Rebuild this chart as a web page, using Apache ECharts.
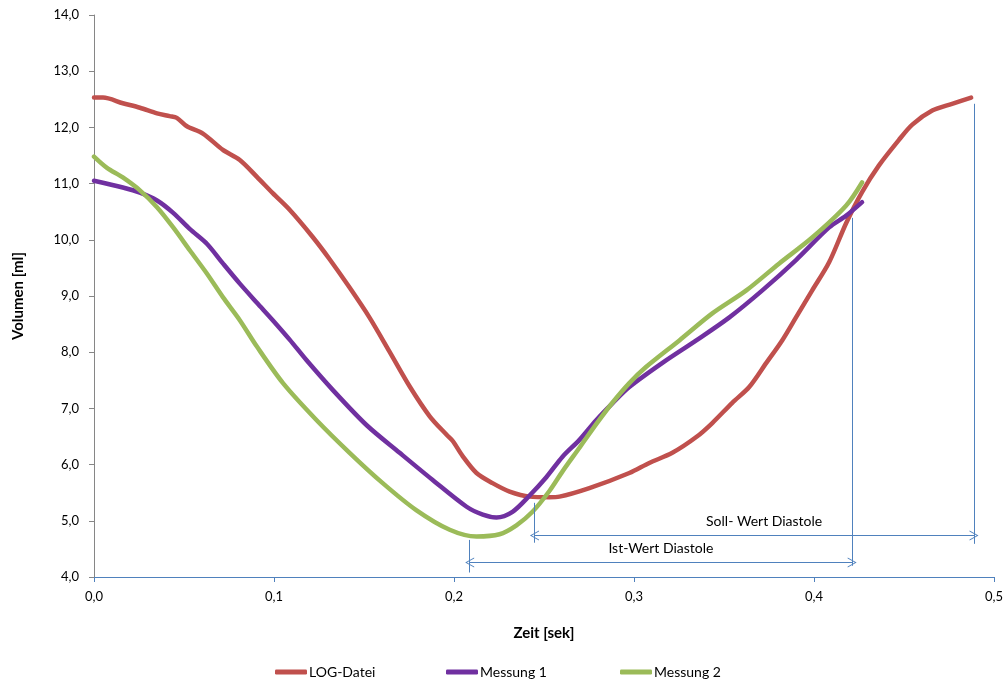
<!DOCTYPE html>
<html>
<head>
<meta charset="utf-8">
<script src="https://cdn.jsdelivr.net/npm/echarts@6/dist/echarts.min.js"></script>
<style>
html,body{margin:0;padding:0;background:#fff;}
#chart{width:1007px;height:684px;}
</style>
</head>
<body>
<div id="chart"></div>
<script>
// Zeit [sek] / Volumen [ml]
var logX = [0, 0.005, 0.016, 0.0255, 0.035, 0.042, 0.046, 0.0516, 0.0605, 0.0716, 0.081, 0.0905, 0.0993, 0.1088, 0.1215, 0.131, 0.142, 0.153, 0.164, 0.1754, 0.1865, 0.1959, 0.1993, 0.2048, 0.2125, 0.2214, 0.2309, 0.242, 0.253, 0.2586, 0.2752, 0.2974, 0.3085, 0.3213, 0.3346, 0.3435, 0.3546, 0.364, 0.3735, 0.3823, 0.39, 0.399, 0.4084, 0.4179, 0.4267, 0.436, 0.447, 0.4546, 0.4657, 0.4767, 0.4873];
var logY = [12.53, 12.53, 12.43, 12.35, 12.25, 12.20, 12.17, 12.02, 11.89, 11.60, 11.42, 11.12, 10.83, 10.53, 10.05, 9.65, 9.15, 8.62, 8.02, 7.39, 6.86, 6.53, 6.42, 6.15, 5.85, 5.67, 5.52, 5.43, 5.42, 5.43, 5.58, 5.85, 6.03, 6.21, 6.49, 6.74, 7.10, 7.38, 7.81, 8.21, 8.62, 9.10, 9.60, 10.30, 10.85, 11.32, 11.77, 12.05, 12.30, 12.42, 12.53];

var mess1X = [0, 0.016, 0.0255, 0.035, 0.044, 0.0533, 0.0627, 0.0716, 0.081, 0.0905, 0.0993, 0.1088, 0.118, 0.1326, 0.1515, 0.1698, 0.188, 0.207, 0.216, 0.2236, 0.2325, 0.242, 0.2514, 0.2603, 0.2697, 0.279, 0.288, 0.2974, 0.3158, 0.3346, 0.353, 0.3713, 0.39, 0.4084, 0.4179, 0.4267];
var mess1Y = [11.05, 10.93, 10.84, 10.70, 10.48, 10.19, 9.93, 9.58, 9.22, 8.88, 8.57, 8.22, 7.86, 7.33, 6.70, 6.21, 5.73, 5.25, 5.11, 5.06, 5.16, 5.45, 5.78, 6.14, 6.44, 6.79, 7.09, 7.38, 7.81, 8.21, 8.62, 9.10, 9.64, 10.22, 10.43, 10.67];

var mess2X = [0, 0.0072, 0.016, 0.0255, 0.035, 0.044, 0.0533, 0.0627, 0.0716, 0.081, 0.0905, 0.105, 0.1237, 0.142, 0.1604, 0.179, 0.1976, 0.2125, 0.2253, 0.2347, 0.2436, 0.253, 0.2603, 0.2697, 0.279, 0.288, 0.2974, 0.3068, 0.3252, 0.3435, 0.3624, 0.3807, 0.399, 0.4179, 0.4267];
var mess2Y = [11.48, 11.28, 11.11, 10.88, 10.58, 10.22, 9.81, 9.40, 8.98, 8.57, 8.10, 7.45, 6.79, 6.21, 5.67, 5.19, 4.84, 4.72, 4.76, 4.92, 5.16, 5.53, 5.88, 6.30, 6.72, 7.10, 7.45, 7.74, 8.21, 8.69, 9.10, 9.58, 10.04, 10.61, 11.02];

// Annotationen: Soll-/Ist-Wert Diastole
var sollX = [0.2447, 0.4889], sollY = 4.74;
var istX = [0.2087, 0.4212], istY = 4.26;
// Hilfslinien [x, yOben, yUnten]
var guides = [[0.2447, 5.32, 4.61], [0.2087, 4.66, 4.08], [0.4212, 10.39, 4.20], [0.4889, 12.42, 4.59]];

var seriesNames = ['LOG-Datei', 'Messung 1', 'Messung 2'];
var colorMap = {'LOG-Datei': '#C0504D', 'Messung 1': '#7030A0', 'Messung 2': '#9BBB59'};

function zip(xs, ys) {
	return xs.map(function (x, i) { return [x, ys[i]]; });
}

var chart = echarts.init(document.getElementById('chart'));
var fontFam = 'Lato, "Open Sans", sans-serif';
var annoColor = '#4F81BD';
var chevron = 'path://M5,0 L10,10 L9,10 L5,2 L1,10 L0,10 Z';

var lineSeries = [zip(logX, logY), zip(mess1X, mess1Y), zip(mess2X, mess2Y)].map(function (d, i) {
	return {
		name: seriesNames[i],
		type: 'line',
		data: d,
		smooth: 0.3,
		showSymbol: false,
		lineStyle: {width: 4.5, color: colorMap[seriesNames[i]], cap: 'round'},
		itemStyle: {color: colorMap[seriesNames[i]]},
		z: 3
	};
});

var guideLines = guides.map(function (g) {
	return [{coord: [g[0], g[1]], symbol: 'none'}, {coord: [g[0], g[2]], symbol: 'none'}];
});

var annoSeries = {
	type: 'line',
	data: [],
	silent: true,
	markLine: {
		silent: true,
		animation: false,
		lineStyle: {color: annoColor, width: 1, type: 'solid'},
		symbol: [chevron, chevron],
		symbolSize: [10, 9],
		label: {show: false},
		data: [
			[{coord: [sollX[0], sollY]}, {coord: [sollX[1], sollY]}],
			[{coord: [istX[0], istY]}, {coord: [istX[1], istY]}]
		].concat(guideLines)
	}
};

var labels = {
	type: 'scatter',
	data: [],
	silent: true,
	markPoint: {
		silent: true,
		symbol: 'rect',
		symbolSize: 0,
		label: {show: true, color: '#000', fontFamily: fontFam, fontSize: 14},
		data: [
			{coord: [(sollX[0] + sollX[1]) / 2 + 0.0055, sollY + 0.25], value: 'Soll- Wert Diastole', label: {formatter: 'Soll- Wert Diastole'}},
			{coord: [(istX[0] + istX[1]) / 2, istY + 0.25], value: 'Ist-Wert Diastole', label: {formatter: 'Ist-Wert Diastole'}}
		]
	}
};

var legendPos = [270, 441, 615];
var option = {
	animation: false,
	color: seriesNames.map(function (n) { return colorMap[n]; }),
	grid: {left: 94, right: 13, top: 15, bottom: 107},
	legend: seriesNames.map(function (n, i) {
		return {
			data: [n],
			left: legendPos[i],
			top: 660,
			icon: 'roundRect',
			itemWidth: 32,
			itemHeight: 5,
			textStyle: {fontFamily: fontFam, fontSize: 14, color: '#000', padding: [0, 0, 0, -3]},
			selectedMode: false
		};
	}),
	xAxis: {
		type: 'value',
		min: 0, max: 0.5, interval: 0.1,
		name: 'Zeit [sek]',
		nameLocation: 'middle',
		nameGap: 49,
		nameTextStyle: {fontFamily: fontFam, fontSize: 15, fontWeight: 'bold', color: '#000'},
		axisLine: {show: true, lineStyle: {color: '#4F81BD', width: 1}},
		axisTick: {show: true, length: 5, inside: false, lineStyle: {color: '#4F81BD'}},
		axisLabel: {margin: 13, fontFamily: fontFam, fontSize: 13, color: '#000',
			formatter: function (v) { return v.toFixed(1).replace('.', ','); }},
		splitLine: {show: false}
	},
	yAxis: {
		type: 'value',
		min: 4, max: 14, interval: 1,
		name: 'Volumen [ml]',
		nameLocation: 'middle',
		nameGap: 68,
		nameTextStyle: {fontFamily: fontFam, fontSize: 15, fontWeight: 'bold', color: '#000'},
		axisLine: {show: true, lineStyle: {color: '#868686', width: 1}},
		axisTick: {show: true, length: 5, lineStyle: {color: '#868686'}},
		axisLabel: {margin: 15, fontFamily: fontFam, fontSize: 13, color: '#000',
			formatter: function (v) { return v.toFixed(1).replace('.', ','); }},
		splitLine: {show: false}
	},
	series: lineSeries.concat([annoSeries, labels])
};
chart.setOption(option);
</script>
</body>
</html>
